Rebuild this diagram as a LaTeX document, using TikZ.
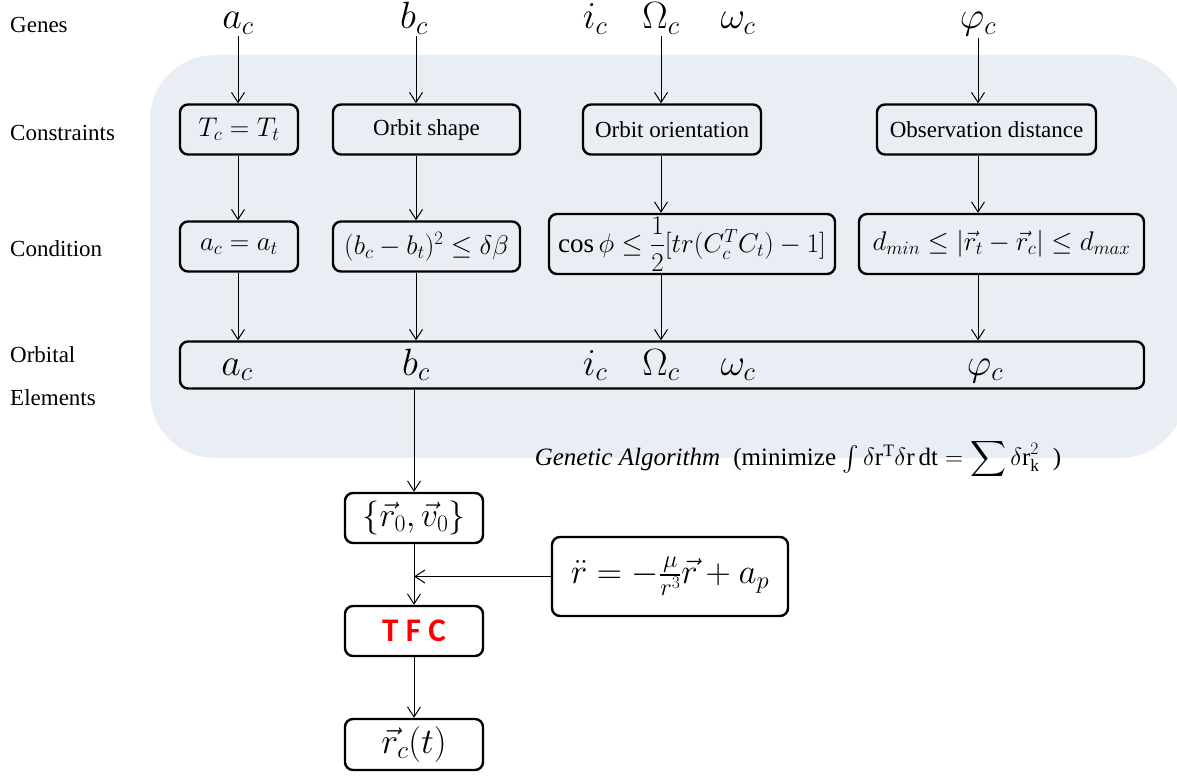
\RequirePackage{fix-cm}
\documentclass[tikz,border=0pt]{standalone}
\usepackage{amsmath,amssymb}
\usepackage{fontspec}
\setmainfont{Liberation Serif}
\newfontfamily\tfcfont{Carlito}
\usepackage{tikz}
\usepackage{xcolor}
\usetikzlibrary{arrows.meta,positioning}
\definecolor{gabg}{HTML}{E9EEF5}
\definecolor{tfcred}{HTML}{FF0000}
\tikzset{
  stepbox/.style={draw=black,line width=2.4pt,rounded corners=8pt,
                  align=center,inner sep=2pt,font=\fontsize{23}{27}\selectfont},
  mathbox/.style={stepbox,font=\fontsize{27}{31}\selectfont},
  rowlabel/.style={anchor=west,inner sep=0pt,font=\fontsize{23}{27}\selectfont},
  gene/.style={anchor=base,inner sep=1pt,font=\fontsize{38}{44}\selectfont},
  flowarr/.style={-{Straight Barb[length=10pt,width=13pt]},line width=1pt}
}

\begin{document}
\begin{tikzpicture}[x=1pt,y=-1pt]
  \useasboundingbox (0,0) rectangle (1177,776);
  \fill[gabg,rounded corners=65pt] (150,55) rectangle (1185,458);

  % row labels
  \node[rowlabel] (lgenes) at (10,25) {Genes};
  \node[rowlabel] (lcons) at (10,133) {Constraints};
  \node[rowlabel] (lcond) at (10,249) {Condition};
  \node[rowlabel] (lorb) at (10,355) {Orbital};
  \node[rowlabel] (lelem) at (10,398) {Elements};

  % genes
  \node[gene] (ga) at (238,29) {$a_c$};
  \node[gene] (gb) at (414,29) {$b_c$};
  \node[gene] (gi) at (595,29) {$i_c$};
  \node[gene] (gO) at (661,29) {$\Omega_c$};
  \node[gene] (gw) at (738,29) {$\omega_c$};
  \node[gene] (gp) at (978,29) {$\varphi_c$};

  % constraints
  \node[mathbox,minimum width=118,minimum height=50] (tcon) at (239,129.5) {$T_c = T_t$};
  \node[stepbox,minimum width=187,minimum height=50] (shape) at (426.5,129.5) {Orbit shape};
  \node[stepbox,minimum width=178,minimum height=50] (orient) at (672,129.5) {Orbit orientation};
  \node[stepbox,minimum width=219,minimum height=50] (obs) at (986.5,129.5) {Observation distance};

  % conditions
  \node[mathbox,minimum width=118,minimum height=50] (acond) at (239,246.5) {$a_c = a_t$};
  \node[mathbox,minimum width=187,minimum height=50] (bcond) at (426.5,246.5) {$(b_c-b_t)^2\le\delta\beta$};
  \node[mathbox,minimum width=286,minimum height=60] (ccond) at (692,244)
    {$\cos\phi\le\dfrac{1}{2}[tr(C_c^TC_t)-1]$};
  \node[mathbox,minimum width=285,minimum height=60] (dcond) at (1001.5,244)
    {$d_{min}\le|\vec{r}_t-\vec{r}_c|\le d_{max}$};

  % orbital elements
  \node[stepbox,minimum width=964,minimum height=47] (elems) at (662,365) {};
  \node[gene] (ea) at (237,375) {$a_c$};
  \node[gene] (eb) at (416,375) {$b_c$};
  \node[gene] (ei) at (595,375) {$i_c$};
  \node[gene] (eO) at (661,375) {$\Omega_c$};
  \node[gene] (ew) at (738,375) {$\omega_c$};
  \node[gene] (ep) at (985,375) {$\varphi_c$};

  \node[inner sep=0pt,font=\fontsize{25}{29}\selectfont] (ga-text) at (798,459)
    {\textit{Genetic Algorithm}\; (minimize $\int\delta\mathrm{r}^{\mathrm{T}}\delta\mathrm{r}\,\mathrm{dt}=\displaystyle\sum\delta\mathrm{r}_{\mathrm{k}}^{2}$\; )};

  % propagation
  \node[mathbox,minimum width=138,minimum height=50,font=\fontsize{34}{38}\selectfont] (rv0) at (414,518)
    {$\{\vec{r}_0,\vec{v}_0\}$};
  \node[stepbox,minimum width=138,minimum height=50,font=\fontsize{33}{37}\selectfont\tfcfont\bfseries,text=tfcred] (tfc) at (414,631)
    {T F C};
  \node[mathbox,minimum width=138,minimum height=51,font=\fontsize{36}{40}\selectfont] (rct) at (414,744.5)
    {$\vec{r}_c(t)$};
  \node[mathbox,minimum width=236,minimum height=79,font=\fontsize{35}{40}\selectfont] (eqn) at (670,576.5)
    {$\ddot{r}=-\frac{\mu}{r^3}\vec{r}+a_p$};

  % arrows
  \draw[flowarr] (ga.south) -- (ga.south |- tcon.north);
  \draw[flowarr] (ga.south |- tcon.south) -- (ga.south |- acond.north);
  \draw[flowarr] (ga.south |- acond.south) -- (ga.south |- elems.north);
  \draw[flowarr] ([xshift=2pt]gb.south) -- ([xshift=2pt]gb.south |- shape.north);
  \draw[flowarr] (eb.north |- shape.south) -- (eb.north |- bcond.north);
  \draw[flowarr] (eb.north |- bcond.south) -- (eb.north |- elems.north);
  \draw[flowarr] (gO.south) -- (gO.south |- orient.north);
  \draw[flowarr] (gO.south |- orient.south) -- (gO.south |- ccond.north);
  \draw[flowarr] (gO.south |- ccond.south) -- (gO.south |- elems.north);
  \draw[flowarr] (gp.south) -- (gp.south |- obs.north);
  \draw[flowarr] (gp.south |- obs.south) -- (gp.south |- dcond.north);
  \draw[flowarr] (gp.south |- dcond.south) -- (gp.south |- elems.north);
  \draw[flowarr] (rv0.north |- elems.south) -- (rv0.north);
  \draw[flowarr] (rv0.south) -- (tfc.north);
  \draw[flowarr] (eqn.west) -- (eqn.west -| rv0.south);
  \draw[flowarr] (tfc.south) -- (rct.north);
\end{tikzpicture}
\end{document}
